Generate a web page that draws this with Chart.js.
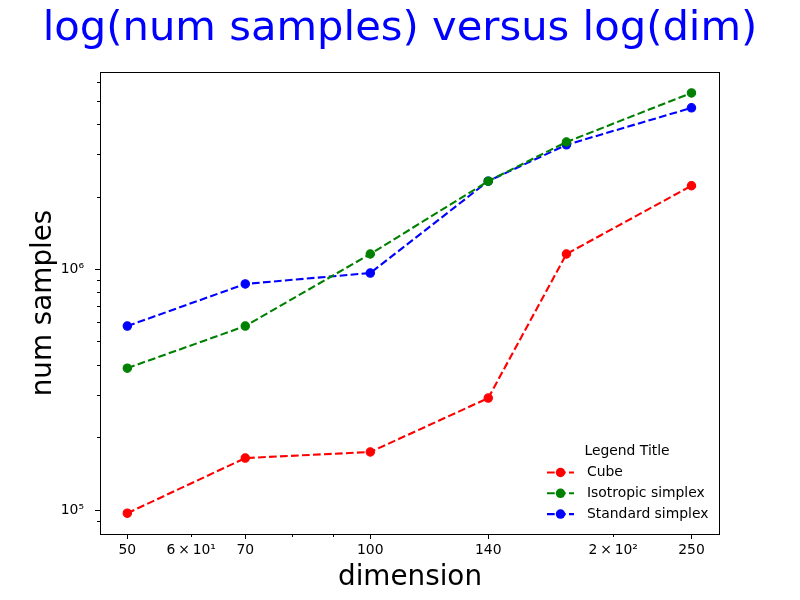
<!DOCTYPE html>
<html>
<head>
<meta charset="utf-8">
<script src="https://cdn.jsdelivr.net/npm/chart.js@4"></script>
<style>
  html, body { margin: 0; padding: 0; background: #fff; }
  canvas { display: block; }
</style>
</head>
<body>
<canvas id="chart" width="800" height="600"></canvas>
<script>
const dims = [50, 70, 100, 140, 175, 250];
const cube = [97000, 164500, 174300, 292000, 1160000, 2230000];
const isotropic = [389000, 582000, 1160000, 2330000, 3390000, 5420000];
const standard = [582000, 871000, 967000, 2330000, 3300000, 4700000];

const seriesNames = ["Cube", "Isotropic simplex", "Standard simplex"];
const seriesColors = ["#ff0000", "#008000", "#0000ff"];

const xTickValues = [50, 60, 70, 80, 90, 100, 140, 200, 250];
const xTickLabels = ["50", "6\u2009\u00d7\u200910\u00b9", "70", "", "", "100", "140", "2\u2009\u00d7\u200910\u00b2", "250"];
const xMinor = [false, true, false, true, true, false, false, true, false];
const yTickValues = [90000, 100000, 200000, 300000, 400000, 500000, 600000, 700000, 800000, 900000,
  1000000, 2000000, 3000000, 4000000, 5000000, 6000000];
const yTickLabels = ["", "10\u2075", "", "", "", "", "", "", "", "", "10\u2076", "", "", "", "", ""];

const FONT = "DejaVu Sans";
const DASH = [7.7, 3.3];

function toPoints(values) {
  return dims.map((d, i) => ({ x: d, y: values[i] }));
}

function makeSet(label, values, color) {
  return {
    label: label,
    data: toPoints(values),
    borderColor: color,
    backgroundColor: color,
    borderWidth: 2.1,
    borderDash: DASH,
    pointRadius: 4.2,
    pointBorderWidth: 1.1,
    pointBorderColor: color,
    pointBackgroundColor: color,
    tension: 0,
    fill: false
  };
}

// box round the plot area, like matplotlib spines
const frame = {
  id: "frame",
  afterDraw(chart) {
    const { ctx, chartArea: a } = chart;
    ctx.save();
    ctx.strokeStyle = "#000";
    ctx.lineWidth = 1;
    ctx.strokeRect(Math.round(a.left) + 0.5, Math.round(a.top) + 0.5,
      Math.round(a.right - a.left) - 1, Math.round(a.bottom - a.top));
    ctx.restore();
  }
};

// legend in lower right corner, no frame, with title
const cornerLegend = {
  id: "cornerLegend",
  afterDraw(chart) {
    const { ctx, chartArea: a } = chart;
    const x0 = a.right - 173;
    const y0 = a.bottom - 83;
    ctx.save();
    ctx.font = "13.9px '" + FONT + "'";
    ctx.textBaseline = "middle";
    ctx.fillStyle = "#000";
    ctx.textAlign = "center";
    ctx.fillText("Legend Title", x0 + 80, y0);
    ctx.textAlign = "left";
    chart.data.datasets.forEach((ds, i) => {
      const y = y0 + 21.5 + i * 20.8;
      ctx.strokeStyle = ds.borderColor;
      ctx.lineWidth = 2.1;
      ctx.setLineDash(DASH);
      ctx.beginPath();
      ctx.moveTo(x0, y);
      ctx.lineTo(x0 + 27, y);
      ctx.stroke();
      ctx.setLineDash([]);
      ctx.fillStyle = ds.borderColor;
      ctx.beginPath();
      ctx.arc(x0 + 13.5, y, 4.75, 0, Math.PI * 2);
      ctx.fill();
      ctx.fillStyle = "#000";
      ctx.fillText(ds.label, x0 + 40, y);
    });
    ctx.restore();
  }
};

new Chart(document.getElementById("chart"), {
  type: "line",
  data: {
    datasets: [
      makeSet(seriesNames[0], cube, seriesColors[0]),
      makeSet(seriesNames[1], isotropic, seriesColors[1]),
      makeSet(seriesNames[2], standard, seriesColors[2])
    ]
  },
  options: {
    responsive: false,
    animation: false,
    devicePixelRatio: 1,
    layout: { padding: 0 },
    plugins: {
      legend: { display: false },
      tooltip: { enabled: false },
      title: {
        display: true,
        text: "log(num samples) versus log(dim)",
        color: "#0000ff",
        font: { family: FONT, size: 41.7, weight: "normal", lineHeight: 1.2 },
        padding: { top: 4, bottom: 17.96 }
      }
    },
    scales: {
      x: {
        type: "logarithmic",
        position: "bottom",
        min: 46.25,
        max: 271.2,
        bounds: "data",
        afterBuildTicks: (s) => { s.ticks = xTickValues.map(v => ({ value: v })); },
        afterFit: (s) => { s.height = 66; },
        border: { display: false },
        grid: {
          drawOnChartArea: false,
          drawTicks: true,
          tickLength: 5,
          tickColor: "#000",
          tickWidth: 1,
          tickBorderDash: (c) => xMinor[c.index] ? [3, 10] : []
        },
        ticks: {
          autoSkip: false,
          maxRotation: 0,
          padding: 3,
          color: "#000",
          font: { family: FONT, size: 13.9 },
          callback: (v, i) => xTickLabels[i]
        },
        title: {
          display: true,
          text: "dimension",
          color: "#000",
          font: { family: FONT, size: 27.8, lineHeight: 1.2 },
          padding: { top: 0, bottom: 6 }
        }
      },
      y: {
        type: "logarithmic",
        position: "left",
        min: 79500,
        max: 6625000,
        bounds: "data",
        afterBuildTicks: (s) => { s.ticks = yTickValues.map(v => ({ value: v })); },
        afterFit: (s) => { s.width = 100; },
        border: { display: false },
        grid: {
          drawOnChartArea: false,
          drawTicks: true,
          tickLength: 5,
          tickColor: "#000",
          tickWidth: 1,
          tickBorderDash: (c) => (yTickLabels[c.index] === "") ? [0, 2, 3, 10] : []
        },
        ticks: {
          autoSkip: false,
          padding: 11,
          color: "#000",
          font: { family: FONT, size: 13.9 },
          callback: (v, i) => yTickLabels[i]
        },
        title: {
          display: true,
          text: "num samples",
          color: "#000",
          font: { family: FONT, size: 27.8, lineHeight: 1.2 },
          padding: { top: 27, bottom: 0 }
        }
      },
      gap: {
        type: "linear",
        position: "right",
        display: true,
        afterFit: (s) => { s.width = 80; },
        border: { display: false },
        grid: { display: false },
        ticks: { display: false }
      }
    }
  },
  plugins: [frame, cornerLegend]
});
</script>
</body>
</html>
